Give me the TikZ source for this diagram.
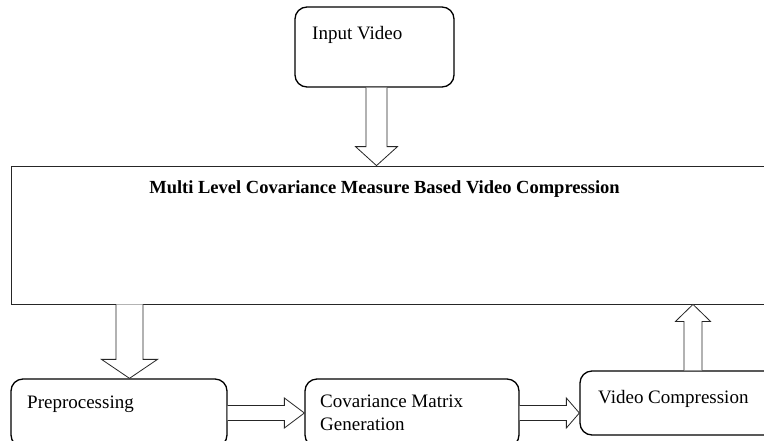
\documentclass[tikz,border=0pt]{standalone}
\usepackage{fontspec}
\setmainfont{Liberation Serif}
\usetikzlibrary{calc}
\tikzset{
  procbox/.style={draw=black, line width=1.3pt, rounded corners=12pt, inner sep=0pt, fill=white},
  framebox/.style={draw=black!85, line width=0.8pt, inner sep=0pt},
  lbl/.style={inner sep=0pt, font=\fontsize{19}{23}\selectfont, anchor=base west, align=left},
  ttl/.style={inner sep=0pt, font=\fontsize{18.5}{23}\selectfont\bfseries, anchor=base},
  blk/.style={draw=black!85, line width=0.8pt, fill=white, line join=miter}
}
% down arrow: start, end, shaft half width, head half width, head length
\newcommand\dnarrow[5]{\draw[blk] ($(#1)+(-#3,0)$) -- ($(#2)+(-#3,-#5)$) -- ($(#2)+(-#4,-#5)$) -- (#2) -- ($(#2)+(#4,-#5)$) -- ($(#2)+(#3,-#5)$) -- ($(#1)+(#3,0)$);}
\newcommand\uparr[5]{\draw[blk] ($(#1)+(-#3,0)$) -- ($(#2)+(-#3,#5)$) -- ($(#2)+(-#4,#5)$) -- (#2) -- ($(#2)+(#4,#5)$) -- ($(#2)+(#3,#5)$) -- ($(#1)+(#3,0)$);}
\newcommand\rtarrow[5]{\draw[blk] ($(#1)+(0,-#3)$) -- ($(#2)+(-#5,-#3)$) -- ($(#2)+(-#5,-#4)$) -- (#2) -- ($(#2)+(-#5,#4)$) -- ($(#2)+(-#5,#3)$) -- ($(#1)+(0,#3)$);}
\begin{document}
\begin{tikzpicture}[x=1pt,y=-1pt]
\useasboundingbox (0,0) rectangle (764,440);
\clip (0,0) rectangle (764,440);
\fill[white] (0,0) rectangle (764,440);

% boxes
\node[procbox, minimum width=159pt, minimum height=80pt] (in) at (374.5,47) {};
\node[framebox, minimum width=779pt, minimum height=138pt] (big) at (400.5,235) {};
\node[procbox, minimum width=216pt, minimum height=68pt] (pre) at (119,413) {};
\node[procbox, minimum width=214pt, minimum height=68pt] (cov) at (412,413) {};
\node[procbox, minimum width=210pt, minimum height=64pt] (vc) at (685,403) {};

% texts
\node[lbl] (tin) at (312,39) {Input Video};
\node[ttl] (ttitle) at (384.5,193) {Multi Level Covariance Measure Based Video Compression};
\node[lbl] (tpre) at (27,408) {Preprocessing};
\node[lbl] (tcov1) at (320,407) {Covariance Matrix};
\node[lbl] (tcov2) at (320,430) {Generation};
\node[lbl] (tvc) at (598,403) {Video Compression};

% block arrows
\coordinate (a1s) at ($(in.south)+(2,0)$);
\coordinate (a1e) at (a1s |- big.north);
\dnarrow{a1s}{a1e}{10.5}{21}{19}

\coordinate (a2e) at ($(pre.north)+(10.5,0)$);
\coordinate (a2s) at (a2e |- big.south);
\dnarrow{a2s}{a2e}{13.5}{28}{19}

\coordinate (a3s) at (pre.east);
\coordinate (a3e) at (pre.east -| cov.west);
\rtarrow{a3s}{a3e}{7.5}{15}{20}

\coordinate (a4s) at (cov.east);
\coordinate (a4e) at (cov.east -| vc.west);
\rtarrow{a4s}{a4e}{7.5}{15}{13}

\coordinate (a5s) at ($(vc.north)+(8,0)$);
\coordinate (a5e) at (a5s |- big.south);
\uparr{a5s}{a5e}{9}{17.5}{17}
\end{tikzpicture}
\end{document}
